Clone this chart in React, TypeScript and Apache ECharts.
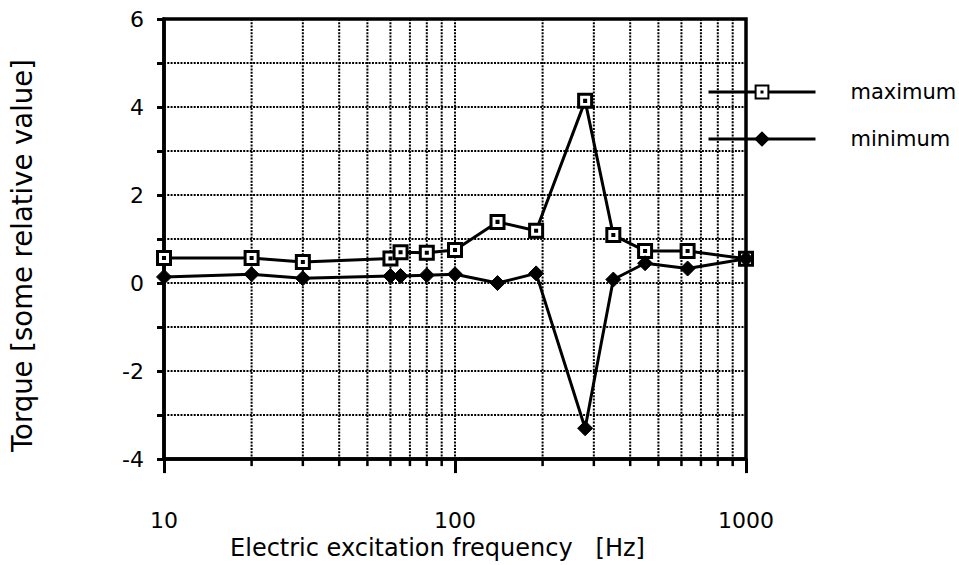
import React, { useEffect, useRef } from "react";
import * as echarts from "echarts";

const frequencies = [10, 20, 30, 60, 65, 80, 100, 140, 190, 280, 350, 450, 630, 1000];
const maximumValues = [0.57, 0.57, 0.48, 0.56, 0.7, 0.69, 0.75, 1.39, 1.19, 4.14, 1.09, 0.73, 0.73, 0.55];
const minimumValues = [0.14, 0.2, 0.11, 0.16, 0.16, 0.18, 0.2, 0.0, 0.22, -3.3, 0.08, 0.45, 0.33, 0.55];
const minorXTicks = [20, 30, 40, 50, 60, 70, 80, 90, 200, 300, 400, 500, 600, 700, 800, 900];
const xLabels = ["10", "100", "1000"];
const Y_MIN = -4;
const Y_MAX = 6;
const xAxisTitle = "Electric excitation frequency   [Hz]";
const yAxisTitle = "Torque [some relative value]";
const seriesNames = ["maximum", "minimum"];

const FONT = "'DejaVu Sans', 'Liberation Sans', Arial, sans-serif";

export default function App() {
  const ref = useRef<HTMLDivElement>(null);
  useEffect(() => {
    if (!ref.current) return;
    const chart = echarts.init(ref.current, undefined, { renderer: "svg" });
    const gridLine = { color: "#000", width: 2, type: [2, 1.3] as any };
    const squareSymbol = "path://M0,0H10V10H0Z M4.6,4.6H5.4V5.4H4.6Z";
    chart.setOption({
      animation: false,
      backgroundColor: "#fff",
      textStyle: { fontFamily: FONT, color: "#000" },
      grid: {
        left: 161,
        right: 959 - 746,
        top: 19,
        bottom: 565 - 460,
        show: true,
        borderColor: "#000",
        borderWidth: 3.5,
        backgroundColor: "#fff",
      },
      legend: {
        orient: "vertical",
        left: 707,
        top: 80,
        padding: 0,
        itemWidth: 107,
        itemHeight: 16,
        itemGap: 23,
        data: seriesNames,
        lineStyle: { width: 3, color: "#000" },
        textStyle: { fontFamily: FONT, fontSize: 21, lineHeight: 24, color: "#000", padding: [0, 0, 0, 30] },
      },
      xAxis: {
        type: "log",
        logBase: 10,
        min: 10,
        max: 1000,
        name: xAxisTitle,
        nameLocation: "middle",
        nameGap: 76,
        nameTextStyle: { fontFamily: FONT, fontSize: 24, color: "#000", padding: [0, 35, 0, 0] },
        axisLine: { show: true, onZero: false, lineStyle: { color: "#000", width: 3.5 } },
        axisTick: { show: true, inside: false, length: 14, lineStyle: { color: "#000", width: 3 } },
        axisLabel: {
          margin: 50,
          fontFamily: FONT,
          fontSize: 22,
          color: "#000",
          formatter: (v: number) => {
            const s = String(Math.round(v));
            return xLabels.indexOf(s) >= 0 ? s : "";
          },
        },
        splitLine: { show: true, lineStyle: gridLine },
        minorTick: { show: false },
      },
      yAxis: {
        type: "value",
        min: Y_MIN,
        max: Y_MAX,
        interval: 1,
        name: yAxisTitle,
        nameLocation: "middle",
        nameRotate: 90,
        nameGap: 128,
        nameTextStyle: { fontFamily: FONT, fontSize: 27.5, color: "#000", padding: [0, 33, 0, 0] },
        axisLine: { show: true, lineStyle: { color: "#000", width: 3.5 } },
        axisTick: { show: true, inside: false, length: 7, lineStyle: { color: "#000", width: 3 } },
        axisLabel: {
          margin: 20,
          fontFamily: FONT,
          fontSize: 22,
          color: "#000",
          formatter: (v: number) => (Math.round(v) % 2 === 0 ? String(v) : ""),
        },
        splitLine: { show: true, lineStyle: gridLine },
      },
      series: [
        {
          type: "custom",
          name: "minorGrid",
          silent: true,
          clip: false,
          z: 1,
          data: minorXTicks.map((v) => [v, Y_MIN]),
          encode: { x: 0, y: 1 },
          renderItem: (params: any, api: any) => {
            const x = api.value(0);
            const top = api.coord([x, Y_MAX]);
            const bot = api.coord([x, Y_MIN]);
            return {
              type: "group",
              children: [
                {
                  type: "line",
                  shape: { x1: top[0], y1: top[1], x2: bot[0], y2: bot[1] },
                  style: { stroke: "#000", lineWidth: 2, lineDash: [2, 1.3] },
                },
                {
                  type: "line",
                  shape: { x1: bot[0], y1: bot[1], x2: bot[0], y2: bot[1] + 7 },
                  style: { stroke: "#000", lineWidth: 2.5 },
                },
              ],
            };
          },
        },
        {
          type: "line",
          name: seriesNames[0],
          z: 5,
          data: frequencies.map((f, i) => [f, maximumValues[i]]),
          symbol: squareSymbol,
          symbolSize: 13,
          showAllSymbol: true,
          lineStyle: { color: "#000", width: 3 },
          itemStyle: { color: "#fff", borderColor: "#000", borderWidth: 3 },
        },
        {
          type: "line",
          name: seriesNames[1],
          z: 6,
          data: frequencies.map((f, i) => [f, minimumValues[i]]),
          symbol: "diamond",
          symbolSize: 15,
          showAllSymbol: true,
          lineStyle: { color: "#000", width: 3 },
          itemStyle: { color: "#000", borderColor: "#000", borderWidth: 1 },
        },
      ],
    });
    return () => chart.dispose();
  }, []);
  return (
    <div
      ref={ref}
      style={{ position: "fixed", left: 0, top: 0, width: 959, height: 565, background: "#fff" }}
    />
  );
}
